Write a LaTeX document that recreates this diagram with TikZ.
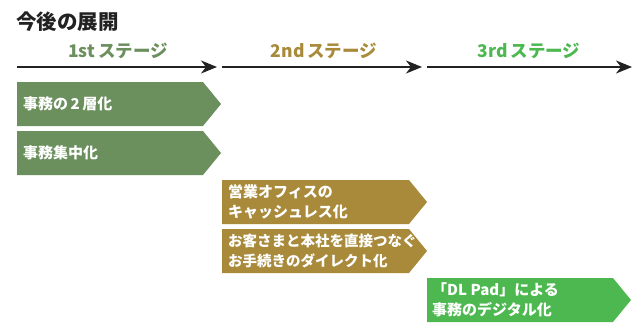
\documentclass[tikz,border=0pt]{standalone}
\usepackage{fontspec}
\newfontfamily\jp{Noto Sans CJK JP}
\usetikzlibrary{arrows.meta}
\definecolor{cA}{HTML}{6B8F5D}
\definecolor{cB}{HTML}{A88A3A}
\definecolor{cC}{HTML}{4CB84F}
\definecolor{ink}{HTML}{222222}
\begin{document}
\begin{tikzpicture}[x=1pt,y=-1pt,
  stagearrow/.style={line width=2pt,draw=ink,-{Stealth[length=16pt,width=13pt,inset=5pt]}},
  stagelabel/.style={font=\jp\bfseries\fontsize{17.5}{19}\selectfont,inner sep=0pt},
  boxtext/.style={font=\jp\bfseries\fontsize{15}{20}\selectfont,text=white,anchor=west,align=left,inner sep=0pt},
  title/.style={font=\jp\bfseries\fontsize{20.5}{22}\selectfont,text=ink,anchor=west,inner sep=0pt}]
\useasboundingbox (0,0) rectangle (636,324);
\node[title] (t) at (16,22) {今後の展開};
% stage arrows
\coordinate (a1s) at (17,67); \coordinate (a1e) at (217,67);
\coordinate (a2s) at (222,67); \coordinate (a2e) at (422,67);
\coordinate (a3s) at (427,67); \coordinate (a3e) at (632,67);
\draw[stagearrow] (a1s) -- (a1e);
\draw[stagearrow] (a2s) -- (a2e);
\draw[stagearrow] (a3s) -- (a3e);
\node[stagelabel,text=cA] (s1) at (118,51) {1st\,ステージ};
\node[stagelabel,text=cB] (s2) at (324,51) {2nd\,ステージ};
\node[stagelabel,text=cC] (s3) at (529,51) {3rd\,ステージ};
% boxes
\fill[cA] (17,82) -- (203,82) -- (221,104) -- (203,126) -- (17,126) -- cycle;
\fill[cA] (17,131) -- (203,131) -- (221,153) -- (203,175) -- (17,175) -- cycle;
\fill[cB] (222,180) -- (409,180) -- (427,202) -- (409,224) -- (222,224) -- cycle;
\fill[cB] (222,229) -- (409,229) -- (427,251) -- (409,273) -- (222,273) -- cycle;
\fill[cC] (427,278) -- (613,278) -- (631,300) -- (613,322) -- (427,322) -- cycle;
\node[boxtext] (b1) at (23,104) {事務の\,2\,層化};
\node[boxtext] (b2) at (23,153) {事務集中化};
\node[boxtext] (b3) at (228,202) {営業オフィスの\\キャッシュレス化};
\node[boxtext,font=\jp\bfseries\fontsize{14.5}{20}\selectfont] (b4) at (228,251) {お客さまと本社を直接つなぐ\\お手続きのダイレクト化};
\node[boxtext] (b5) at (432,300) {「DL Pad」による\\事務のデジタル化};
\end{tikzpicture}
\end{document}
